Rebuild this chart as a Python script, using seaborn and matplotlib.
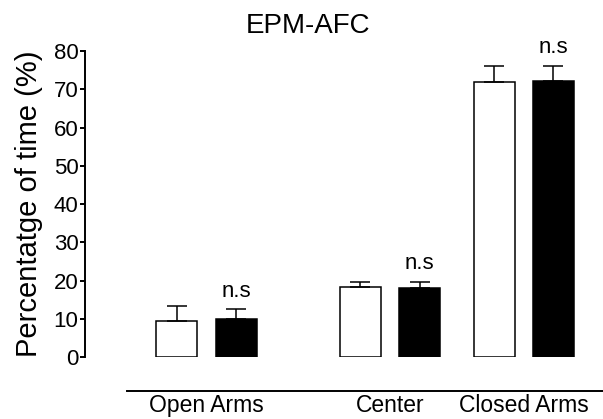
import matplotlib
matplotlib.use("Agg")
import matplotlib.pyplot as plt
import seaborn as sns
import pandas as pd

# values
zones = ["Open Arms", "Center", "Closed Arms"]
groups = ["Group 1", "Group 2"]
group1_mean = [9.6, 18.4, 71.8]
group1_sem = [3.9, 1.3, 4.3]
group2_mean = [10.1, 18.0, 72.2]
group2_sem = [2.5, 1.7, 3.9]
sig_labels = ["n.s", "n.s", "n.s"]
y_ticks = [0, 10, 20, 30, 40, 50, 60, 70, 80]

# layout only: the zones are not evenly spaced in the original
zone_x = [0.0, 1.0, 1.73]

df = pd.DataFrame({
    "zone": zones * 2,
    "x": zone_x * 2,
    "group": [groups[0]] * 3 + [groups[1]] * 3,
    "pct": group1_mean + group2_mean,
})

sns.set_style("ticks", {"axes.edgecolor": "black", "text.color": "black",
                        "xtick.color": "black", "ytick.color": "black",
                        "axes.labelcolor": "black"})
plt.rcParams["font.family"] = ["Liberation Sans", "DejaVu Sans"]

fig = plt.figure(figsize=(6.03, 4.19), dpi=100)
ax = fig.add_axes([85 / 603, 1 - 357.3 / 419, 518 / 603, 306.3 / 419])

sns.barplot(data=df, x="x", y="pct", hue="group", native_scale=True,
            palette={groups[0]: "white", groups[1]: "black"}, saturation=1,
            width=0.882, gap=0.306, edgecolor="black", linewidth=1.1,
            errorbar=None, legend=False, ax=ax)

# upper-only error bars (SEM) and significance labels
for i, (cont, sems) in enumerate(zip(ax.containers, [group1_sem, group2_sem])):
    bars = sorted(cont, key=lambda b: b.get_x())
    for j, (bar, s) in enumerate(zip(bars, sems)):
        xc = bar.get_x() + bar.get_width() / 2
        top = bar.get_height()
        ax.errorbar(xc, top, yerr=[[0], [s]], fmt="none", ecolor="black",
                    elinewidth=1.1, capsize=7.5, capthick=1.1, zorder=3)
        if i == 1:
            ax.annotate(sig_labels[j], (xc, top + s), xytext=(0, 9),
                        textcoords="offset points", ha="center", va="baseline",
                        fontsize=16, color="black", annotation_clip=False)

ax.set_xlim(-0.662, 2.161)
ax.set_ylim(0, 80)
ax.set_yticks(y_ticks)
ax.set_xticks(zone_x, zones)
ax.tick_params(axis="x", length=0, labelsize=16.5, pad=2, colors="black")
ax.tick_params(axis="y", length=3.6, width=1.4, labelsize=16, pad=1, colors="black")

sns.despine(ax=ax)
ax.spines["left"].set_linewidth(1.4)
ax.spines["left"].set_bounds(0, 80)
ax.spines["bottom"].set_linewidth(1.4)
ax.spines["bottom"].set_position(("outward", 24.3))
ax.spines["bottom"].set_bounds(-0.433, 2.161)

ax.set_xlabel("")
ax.set_ylabel("Percentatge of time (%)", fontsize=21, labelpad=8, color="black")
ax.set_title("EPM-AFC", fontsize=20, x=0.43, pad=13, color="black")

fig.savefig("out.png", dpi=100)
